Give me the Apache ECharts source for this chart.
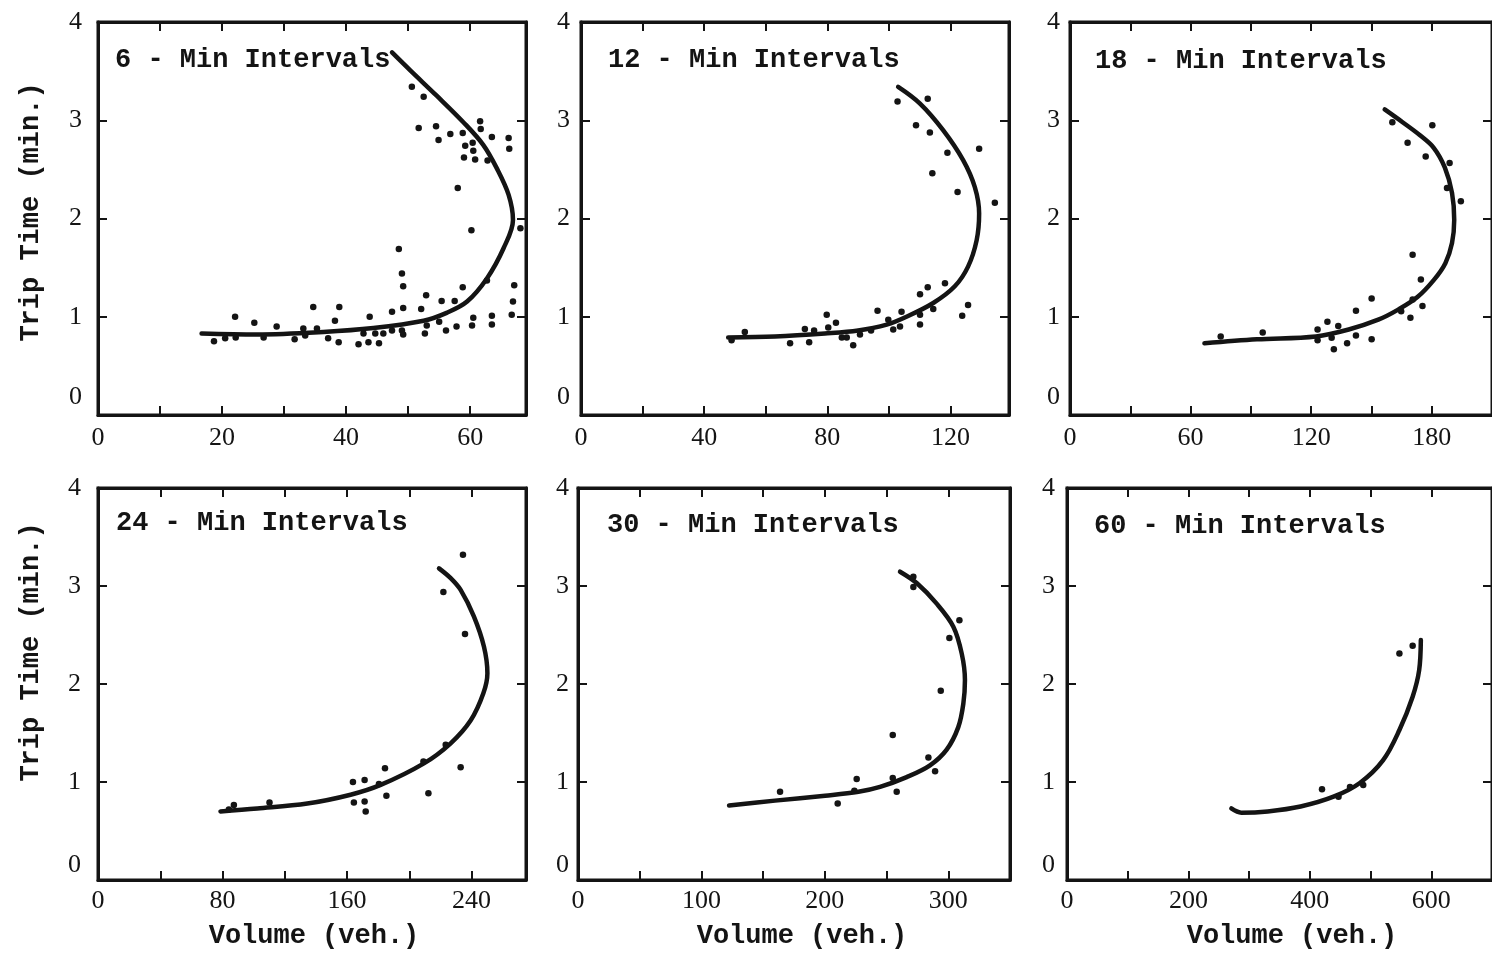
<!DOCTYPE html>
<html><head><meta charset="utf-8">
<script src="https://cdn.jsdelivr.net/npm/echarts@6/dist/echarts.min.js"></script>
<style>html,body{margin:0;padding:0;background:#fff}#c{width:1492px;height:957px}</style>
</head><body><div id="c"></div>
<script>
// ---------- data ----------
const panelTitles = ['6 - Min Intervals', '12 - Min Intervals', '18 - Min Intervals',
                     '24 - Min Intervals', '30 - Min Intervals', '60 - Min Intervals'];
const xMax  = [69, 139, 210, 275, 350, 700];
const xStep = [10, 20, 30, 40, 50, 100];
const yTickLabels = [0, 1, 2, 3, 4];
const yAxisTitle = 'Trip Time (min.)';
const xAxisTitle = 'Volume (veh.)';

const curve6 = [[16.7,0.83],[25.6,0.82],[36.3,0.845],[44.4,0.885],[52.5,0.96],[56.2,1.04],[59.5,1.155],
  [62.7,1.39],[65.4,1.70],[66.9,1.985],[66.2,2.24],[64.3,2.51],[62.1,2.75],[58.9,2.98],[54.6,3.25],[50.3,3.51],[47.4,3.69]];
const points6 = [[50.6,3.34],[52.5,3.24],[51.7,2.92],[54.5,2.94],[54.9,2.80],[56.8,2.86],[58.8,2.87],[61.6,2.99],
  [61.7,2.91],[60.4,2.77],[59.2,2.74],[60.5,2.69],[59.0,2.62],[60.8,2.60],[62.8,2.59],[63.5,2.83],[66.2,2.82],
  [66.3,2.71],[58.0,2.31],[60.2,1.88],[68.1,1.90],[48.5,1.69],[49.0,1.44],[49.2,1.31],[62.7,1.37],[67.1,1.32],
  [66.9,1.155],[58.8,1.30],[52.9,1.22],[55.4,1.16],[57.5,1.16],[52.1,1.08],[49.2,1.09],[47.4,1.05],[43.8,1.00],
  [38.9,1.10],[34.7,1.10],[38.2,0.96],[22.1,1.00],[25.2,0.94],[28.8,0.90],[33.1,0.88],[35.3,0.88],[33.4,0.81],
  [31.7,0.77],[26.7,0.79],[22.2,0.79],[20.5,0.78],[18.7,0.75],[37.1,0.78],[38.8,0.74],[42.0,0.72],[43.6,0.74],
  [45.3,0.73],[42.8,0.83],[44.7,0.83],[46.0,0.83],[47.4,0.86],[49.0,0.86],[49.2,0.82],[52.7,0.83],[53.0,0.91],
  [55.0,0.95],[56.1,0.86],[57.8,0.90],[60.3,0.91],[60.5,0.99],[63.5,0.92],[63.5,1.01],[66.7,1.02]];

const curve12 = [[47.8,0.79],[63.0,0.80],[79.2,0.83],[90.0,0.86],[99.3,0.92],[105.7,1.00],[114.4,1.14],
  [121.4,1.31],[125.7,1.51],[128.5,1.78],[129.3,2.05],[127.9,2.32],[124.1,2.595],[117.6,2.90],[110.1,3.17],[103.0,3.34]];
const points12 = [[102.8,3.19],[112.6,3.22],[108.8,2.95],[113.3,2.875],[119.0,2.67],[129.3,2.71],[114.1,2.46],
  [122.3,2.27],[134.4,2.16],[118.2,1.34],[112.6,1.30],[110.1,1.23],[125.7,1.12],[123.8,1.01],[114.4,1.08],
  [110.1,1.02],[110.1,0.92],[104.1,1.05],[103.6,0.90],[101.4,0.87],[99.8,0.97],[96.3,1.06],[94.2,0.86],
  [90.6,0.82],[88.4,0.71],[86.3,0.79],[84.7,0.79],[82.8,0.94],[80.3,0.89],[79.8,1.02],[75.7,0.86],[72.7,0.875],
  [74.1,0.74],[67.9,0.73],[53.2,0.845],[48.9,0.76]];

const curve18 = [[66.9,0.73],[93.0,0.77],[122.4,0.80],[138.7,0.87],[153.4,0.97],[163.1,1.07],[172.9,1.20],
  [181.1,1.375],[186.8,1.545],[190.1,1.75],[191.2,1.985],[190.1,2.26],[186.5,2.52],[181.0,2.72],[174.0,2.85],
  [165.5,2.98],[156.6,3.11]];
const points18 = [[160.4,2.98],[180.3,2.95],[168.0,2.77],[177.0,2.63],[188.9,2.565],[187.6,2.31],[194.5,2.175],
  [170.5,1.63],[174.6,1.38],[150.1,1.185],[170.5,1.175],[175.4,1.11],[164.8,1.055],[169.4,0.99],[142.3,1.06],
  [128.1,0.95],[133.5,0.905],[123.2,0.87],[123.2,0.76],[130.2,0.785],[137.9,0.73],[131.3,0.67],[142.3,0.81],
  [150.1,0.77],[95.9,0.84],[75.0,0.80]];

const curve24 = [[78.7,0.70],[102.3,0.73],[134.5,0.78],[162.3,0.87],[181.6,0.97],[209.4,1.19],[226.6,1.395],
  [239.5,1.63],[247.6,1.905],[250.2,2.11],[248.0,2.38],[241.5,2.69],[233.0,2.96],[226.6,3.08],[219.1,3.18]];
const points24 = [[234.5,3.32],[221.9,2.94],[235.8,2.51],[223.4,1.38],[209.1,1.21],[233.0,1.15],[212.3,0.885],
  [184.4,1.14],[180.5,0.98],[185.3,0.86],[163.8,1.00],[171.3,1.02],[164.4,0.79],[171.3,0.80],[172.0,0.70],
  [87.3,0.765],[110.2,0.79],[84.1,0.72]];

const curve30 = [[122.4,0.76],[159.6,0.81],[200.2,0.86],[227.2,0.90],[244.7,0.95],[266.3,1.05],[285.2,1.17],
  [298.7,1.33],[308.1,1.56],[312.2,1.80],[313.5,2.04],[310.9,2.31],[304.1,2.585],[290.6,2.82],[274.4,3.03],[260.9,3.146]];
const points30 = [[271.7,3.095],[271.7,2.99],[309.0,2.65],[300.9,2.47],[293.9,1.93],[255.0,1.48],[283.9,1.25],
  [289.3,1.11],[255.0,1.04],[258.2,0.90],[225.8,1.03],[223.9,0.91],[210.4,0.78],[163.7,0.90]];

const curve60 = [[270.7,0.73],[287.0,0.687],[330.5,0.70],[384.7,0.75],[439.0,0.85],[482.3,0.99],[520.4,1.22],
  [547.5,1.53],[569.3,1.87],[580.0,2.14],[582.8,2.45]];
const points60 = [[569.3,2.39],[547.5,2.31],[420.0,0.925],[466.1,0.95],[487.9,0.97],[447.2,0.85]];

const curves = [curve6, curve12, curve18, curve24, curve30, curve60];
const pointSets = [points6, points12, points18, points24, points30, points60];

// ---------- layout ----------
const gridRects = [
  {left:98,   top:22,  width:428, height:393},
  {left:581,  top:22,  width:428, height:393},
  {left:1070, top:22,  width:429, height:393},
  {left:98,   top:488, width:428, height:392},
  {left:578,  top:488, width:432, height:392},
  {left:1067, top:488, width:430, height:392}
];
const yLabelMargin = [16, 11, 10, 17, 9, 12];
const zeroShift = [36, 36, 36, 30, 30, 30];
const titlePos = [[115,47],[608,47],[1095,48],[116,510],[607,512],[1094,513]];
const INK = '#141414';
const monoFont = '"Liberation Mono", "DejaVu Sans Mono", monospace';
const serifFont = '"Liberation Serif", "DejaVu Serif", serif';

const grid = [], xAxis = [], yAxis = [], series = [], graphic = [];
const tickStyle = {show:true, inside:true, length:9, lineStyle:{color:INK, width:2}};
const lineStyle = {show:true, onZero:false, lineStyle:{color:INK, width:3}};

gridRects.forEach((r, i) => {
  grid.push(Object.assign({show:true, borderColor:INK, borderWidth:3, containLabel:false}, r));
  const step = xStep[i];
  const common = {type:'value', gridIndex:i, min:0, max:xMax[i], interval:step,
    splitLine:{show:false}, axisLine:lineStyle, axisTick:tickStyle};
  xAxis.push(Object.assign({}, common, {position:'bottom',
    axisLabel:{show:true, margin: i < 3 ? 10 : 8, color:INK, fontFamily:serifFont, fontSize:26,
      showMaxLabel:false,
      formatter: v => (Math.round(v) % (2*step) === 0 ? String(v) : '')}}));
  xAxis.push(Object.assign({}, common, {position:'top', axisLabel:{show:false}}));
  const ycommon = {type:'value', gridIndex:i, min:0, max:4, interval:1,
    splitLine:{show:false}, axisLine:lineStyle, axisTick:tickStyle};
  yAxis.push(Object.assign({}, ycommon, {position:'left',
    axisLabel:{show:true, margin:yLabelMargin[i], color:INK, fontFamily:serifFont, fontSize:26,
      formatter: v => (v === 0 ? '{z|0}' : String(v)),
      rich:{z:{fontFamily:serifFont, fontSize:26, color:INK, padding:[0,0,zeroShift[i],0]}}}}));
  yAxis.push(Object.assign({}, ycommon, {position:'right', axisLabel:{show:false}}));

  series.push({type:'line', xAxisIndex:2*i, yAxisIndex:2*i, data:curves[i], smooth:0.35,
    showSymbol:false, symbol:'none', lineStyle:{color:INK, width:4.5, cap:'round', join:'round'},
    silent:true, z:3});
  series.push({type:'scatter', xAxisIndex:2*i, yAxisIndex:2*i, data:pointSets[i],
    symbol:'circle', symbolSize:6.5, itemStyle:{color:INK, opacity:1}, silent:true, z:4});

  graphic.push({type:'text', left:titlePos[i][0], top:titlePos[i][1],
    style:{text:panelTitles[i], font:'bold 27px ' + monoFont, fill:INK}});
});

graphic.push({type:'text', x:31, y:212, rotation:Math.PI/2,
  style:{text:yAxisTitle, font:'bold 27px ' + monoFont, fill:INK, textAlign:'center', textVerticalAlign:'middle'}});
graphic.push({type:'text', x:31, y:652, rotation:Math.PI/2,
  style:{text:yAxisTitle, font:'bold 27px ' + monoFont, fill:INK, textAlign:'center', textVerticalAlign:'middle'}});
[314, 802, 1292].forEach(cx => {
  graphic.push({type:'text', x:cx, y:936,
    style:{text:xAxisTitle, font:'bold 27px ' + monoFont, fill:INK, textAlign:'center', textVerticalAlign:'middle'}});
});

const chart = echarts.init(document.getElementById('c'), null, {renderer:'canvas'});
chart.setOption({animation:false, backgroundColor:'#fff', grid, xAxis, yAxis, series, graphic});
</script></body></html>
